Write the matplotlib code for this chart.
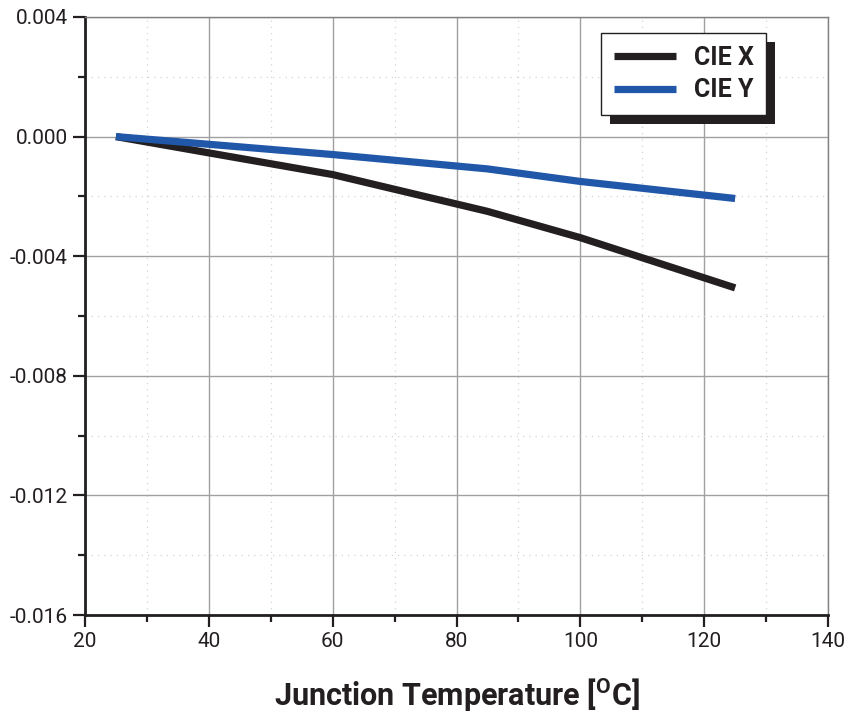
import matplotlib
matplotlib.use('Agg')
import matplotlib.pyplot as plt
from matplotlib.ticker import MultipleLocator, FormatStrFormatter
from matplotlib.patches import Rectangle

# 数据：结温与色坐标偏移
temp = [25, 60, 85, 100, 125]
cie_x = [0.0, -0.00127, -0.0025, -0.00338, -0.00506]
cie_y = [0.0, -0.0006, -0.00108, -0.0015, -0.00207]
series_names = ['CIE X', 'CIE Y']

plt.rcParams['font.family'] = ['Roboto', 'DejaVu Sans']
plt.rcParams['axes.unicode_minus'] = False
plt.rcParams['mathtext.fontset'] = 'custom'
plt.rcParams['mathtext.rm'] = 'Roboto:bold'

fig = plt.figure(figsize=(8.49, 7.2), dpi=100)
ax = fig.add_axes([0.1001, 0.1458, 0.8752, 0.8306])

ax.plot(temp, cie_x, color='#231f20', lw=5.2, label=series_names[0], solid_capstyle='butt', zorder=3)
ax.plot(temp, cie_y, color='#2157a8', lw=5.2, label=series_names[1], solid_capstyle='butt', zorder=3)

ax.set_xlim(20, 140)
ax.set_ylim(-0.016, 0.004)
ax.xaxis.set_major_locator(MultipleLocator(20))
ax.xaxis.set_minor_locator(MultipleLocator(10))
ax.yaxis.set_major_locator(MultipleLocator(0.004))
ax.yaxis.set_minor_locator(MultipleLocator(0.002))
ax.yaxis.set_major_formatter(FormatStrFormatter('%.3f'))

ax.grid(which='major', color='#a0a0a0', lw=1.0, ls='-', zorder=0)
ax.grid(which='minor', color='#d4d4d4', lw=0.9, ls=(0, (1, 4)), zorder=0)
ax.set_axisbelow(True)

for s in ['left', 'bottom']:
    ax.spines[s].set_linewidth(2.0)
    ax.spines[s].set_color('#231f20')
for s in ['top', 'right']:
    ax.spines[s].set_linewidth(1.0)
    ax.spines[s].set_color('#808080')

ax.tick_params(which='major', direction='out', length=8.5, width=1.6, color='#231f20',
               labelsize=15, labelcolor='#231f20', pad=4)
ax.tick_params(which='minor', direction='out', length=5, width=1.6, color='#231f20')
ax.tick_params(top=False, right=False, which='both')

ax.set_xlabel(r'Junction Temperature [$^{\mathrm{O}}$C]', fontsize=22, fontweight='bold',
              color='#231f20', labelpad=18)

leg = ax.legend(loc='upper right', bbox_to_anchor=(0.9166, 0.973), borderaxespad=0,
                fancybox=False, edgecolor='#231f20', framealpha=1,
                prop={'size': 18, 'weight': 'bold'}, handlelength=2.5,
                handletextpad=0.7, borderpad=0.5, labelspacing=0.35)
leg.get_frame().set_linewidth(1.0)
for t in leg.get_texts():
    t.set_color('#231f20')
leg.set_zorder(6)

# 图例阴影
fig.canvas.draw()
bb = leg.get_window_extent()
ax.add_artist(Rectangle((bb.x0 + 9, bb.y0 - 9), bb.width, bb.height,
                        transform=None, facecolor='#231f20', edgecolor='none', zorder=5.5))

fig.savefig('out.png', dpi=100)
